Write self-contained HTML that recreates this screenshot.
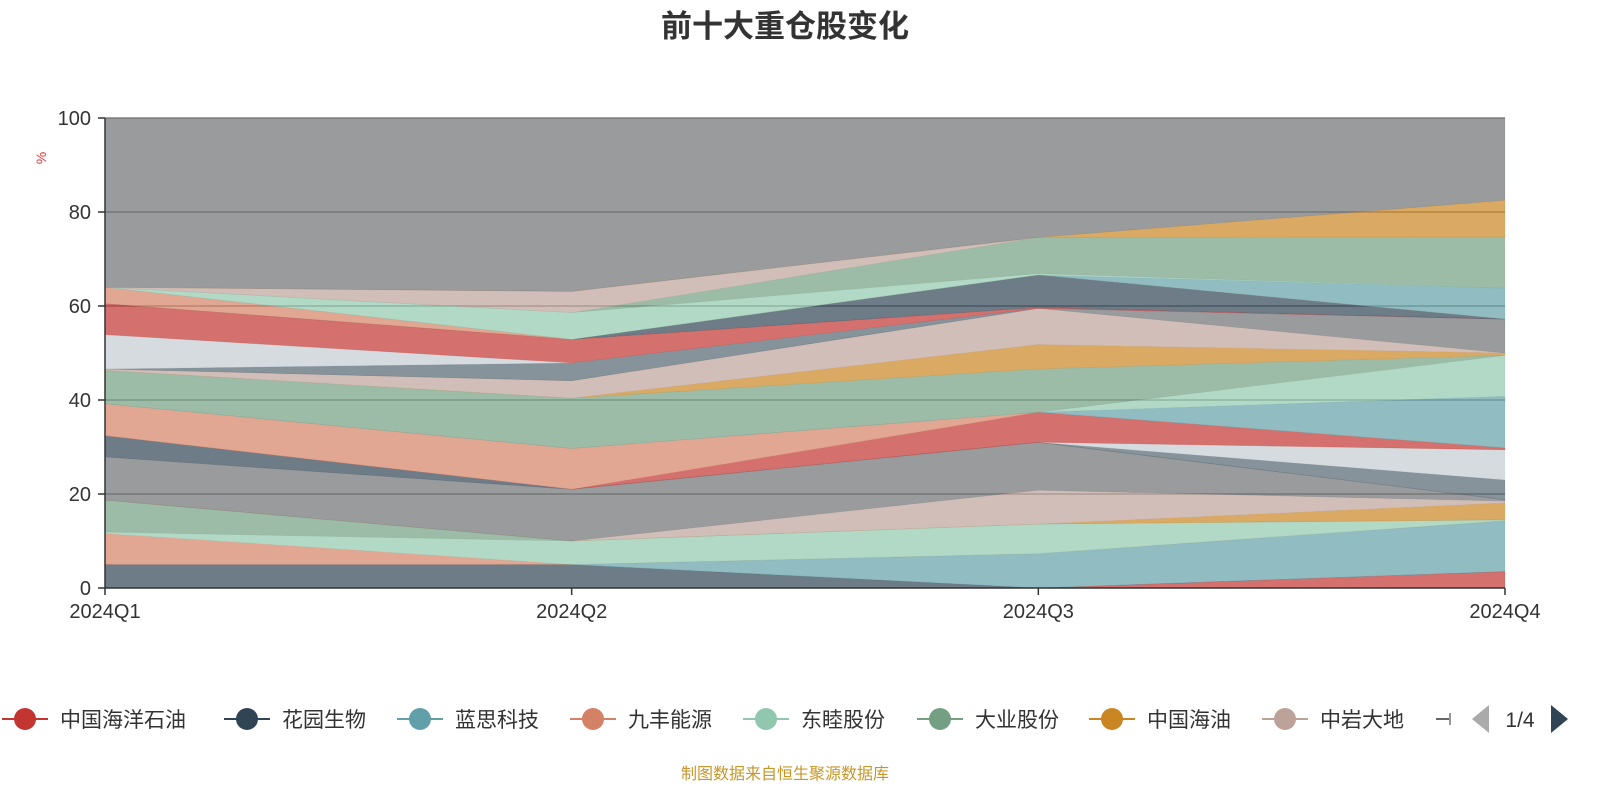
<!DOCTYPE html>
<html><head><meta charset="utf-8">
<style>
html,body{margin:0;padding:0;background:#fff;width:1600px;height:800px;overflow:hidden}
svg{display:block}
text{font-family:"Liberation Sans","Noto Sans CJK SC",sans-serif}
</style></head>
<body>
<svg id="chart" width="1600" height="800">
  <text x="785" y="37" text-anchor="middle" font-size="31" font-weight="bold" fill="#333">前十大重仓股变化</text>
  <g id="grid"></g>
  <g id="areas"></g>
  <g id="axes"></g>
  <text transform="translate(46,158) rotate(-90)" text-anchor="middle" font-size="14" fill="#e33">%</text>
  <g id="legend"></g>
  <text x="785" y="779" text-anchor="middle" font-size="16" fill="#c9962a">制图数据来自恒生聚源数据库</text>
</svg>
<script>
const categories = ["2024Q1","2024Q2","2024Q3","2024Q4"];
const yTicks = [0,20,40,60,80,100];
const seriesColors = ["#c23531","#2f4554","#61a0a8","#d48265","#91c7ae","#749f83","#ca8622","#bda29a","#6e7074","#546570","#c4ccd3"];
// stacked layers bottom -> top: [colorIndex, values per quarter]
const s01 = [0.0,0.0,0.0,3.5];
const s02 = [5.0,5.0,0.0,0.0];
const s03 = [0.0,0.0,7.3,10.8];
const s04 = [6.6,0.0,0.0,0.0];
const s05 = [0.3,5.0,6.3,0.2];
const s06 = [6.8,0.0,0.0,0.0];
const s07 = [0.0,0.0,0.0,3.6];
const s08 = [0.0,0.0,7.2,0.4];
const s09 = [9.2,11.0,10.2,0.3];
const s10 = [4.5,0.0,0.0,0.0];
const s11 = [0.0,0.0,0.0,4.2];
const s12 = [0.0,0.0,0.0,6.4];
const s13 = [0.0,0.0,6.4,0.4];
const s14 = [6.8,8.7,0.0,0.0];
const s15 = [0.0,0.0,0.0,11.0];
const s16 = [0.0,0.0,0.0,8.7];
const s17 = [7.1,10.7,9.2,0.0];
const s18 = [0.0,0.0,5.2,0.5];
const s19 = [0.3,3.7,7.7,0.0];
const s20 = [0.0,0.0,0.0,7.2];
const s21 = [0.0,3.8,0.0,0.0];
const s22 = [7.3,0.0,0.0,0.0];
const s23 = [6.6,5.0,0.2,0.0];
const s24 = [0.0,0.0,6.9,0.0];
const s25 = [3.5,0.0,0.0,0.0];
const s26 = [0.0,0.0,0.0,6.6];
const s27 = [0.0,5.7,0.3,0.0];
const s28 = [0.0,0.0,7.7,10.9];
const s29 = [0.0,4.5,0.0,0.0];
const s30 = [0.0,0.0,0.0,7.8];
const s31 = [36.2,36.9,25.9,17.5];
const layers = [[0,s01],[1,s02],[2,s03],[3,s04],[4,s05],[5,s06],[6,s07],[7,s08],[8,s09],[1,s10],[9,s11],[10,s12],[0,s13],[3,s14],[2,s15],[4,s16],[5,s17],[6,s18],[7,s19],[8,s20],[9,s21],[10,s22],[0,s23],[1,s24],[3,s25],[2,s26],[4,s27],[5,s28],[7,s29],[6,s30],[8,s31]];
const legendNames = ["中国海洋石油","花园生物","蓝思科技","九丰能源","东睦股份","大业股份","中国海油","中岩大地"];

const NS = "http://www.w3.org/2000/svg";
const X0=105, X1=1505, Y0=588, Y1=118;
const xPos = i => X0 + (X1-X0)*i/(categories.length-1);
const yPos = v => Y0 - (Y0-Y1)*v/100;
function mk(tag, attrs, parent){const e=document.createElementNS(NS,tag);for(const k in attrs)e.setAttribute(k,attrs[k]);parent.appendChild(e);return e;}

const grid=document.getElementById('grid');
yTicks.forEach(t=>{ if(t>0){const l=mk('line',{x1:X0,x2:X1,y1:yPos(t),y2:yPos(t),stroke:'#888','stroke-width':1.5},grid);

}});

const areas=document.getElementById('areas');
let base=categories.map(()=>0);
layers.forEach((ly,li)=>{
  const vals=ly[1];
  const top=base.map((b,i)=>b+vals[i]);
  let d='';
  top.forEach((v,i)=>{d+=(i?'L':'M')+xPos(i)+','+yPos(Math.min(v,100));});
  for(let i=base.length-1;i>=0;i--){d+='L'+xPos(i)+','+yPos(base[i]);}
  d+='Z';
  const p=mk('path',{d:d,fill:seriesColors[ly[0]],'fill-opacity':0.7,stroke:seriesColors[ly[0]],'stroke-opacity':0.25,'stroke-width':0.6},areas);
  
  
  base=top;
});

const axes=document.getElementById('axes');
mk('line',{x1:X0,x2:X0,y1:Y1,y2:Y0,stroke:'#333','stroke-width':1.5},axes);
mk('line',{x1:X0,x2:X1,y1:Y0,y2:Y0,stroke:'#333','stroke-width':1.5},axes);
yTicks.forEach(t=>{
  mk('line',{x1:X0-7,x2:X0,y1:yPos(t),y2:yPos(t),stroke:'#333','stroke-width':1.5},axes);
  const tx=mk('text',{x:X0-14,y:yPos(t)+7,'text-anchor':'end','font-size':20,fill:'#333'},axes);
  tx.textContent=t;
  
  
});
categories.forEach((c,i)=>{
  mk('line',{x1:xPos(i),x2:xPos(i),y1:Y0,y2:Y0+7,stroke:'#333','stroke-width':1.5},axes);
  const tx=mk('text',{x:xPos(i),y:Y0+30,'text-anchor':'middle','font-size':20,fill:'#333'},axes);
  tx.textContent=c;
  
  
});

const legend=document.getElementById('legend');
const legendX=[25,247,420,593,766,940,1112,1285];
legendNames.forEach((n,i)=>{
  const g=mk('g',{},legend);
  
  
  const c=seriesColors[i];
  mk('line',{x1:legendX[i]-23,x2:legendX[i]+23,y1:719,y2:719,stroke:c,'stroke-width':2},g);
  mk('circle',{cx:legendX[i],cy:719,r:11,fill:c},g);
  const t=mk('text',{x:legendX[i]+35,y:727,'font-size':21,fill:'#333'},g);
  t.textContent=n;
});
const pg=mk('g',{},legend);


mk('line',{x1:1436,x2:1450,y1:719,y2:719,stroke:'#666','stroke-width':2},pg);
mk('line',{x1:1450,x2:1450,y1:713,y2:725,stroke:'#999','stroke-width':2},pg);
const prev=mk('path',{d:'M1489,705 L1489,733 L1472,719 Z',fill:'#aaa'},pg);


const pt=mk('text',{x:1520,y:727,'text-anchor':'middle','font-size':21,fill:'#333'},pg);
pt.textContent='1/4';
const next=mk('path',{d:'M1551,705 L1551,733 L1568,719 Z',fill:'#2f4554'},pg);


</script>
</body></html>
